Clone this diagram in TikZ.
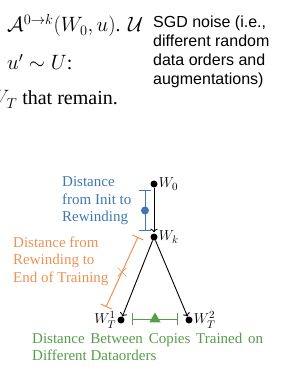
\documentclass[tikz,border=0pt]{standalone}
\usepackage{amsmath, amssymb}
\usepackage{fontspec}
\setmainfont{Liberation Serif}
\setsansfont{Liberation Sans}
\usepackage{xcolor}
\usepackage{tikz}
\usetikzlibrary{arrows.meta, shapes.geometric, shapes.misc}

\definecolor{initblue}{RGB}{62,120,178}
\definecolor{rewindorange}{RGB}{236,146,82}
\definecolor{copygreen}{RGB}{84,158,72}

\begin{document}
\begin{tikzpicture}[x=1pt, y=-1pt, >=To,
    dot/.style={circle, fill=black, inner sep=0pt, minimum size=7pt},
    wlabel/.style={font=\fontsize{15}{17}\selectfont, inner sep=1pt},
    txt/.style={font=\fontsize{15}{17.3}\selectfont, align=left, inner sep=0pt, anchor=north west},
    para/.style={font=\fontsize{20}{24}\selectfont, inner sep=0pt},
    gap/.style={line width=1pt, {Bar[width=12pt]}-{Bar[width=12pt]}}]
    \useasboundingbox (0,0) rectangle (297,379);
    \clip (0,0) rectangle (297,379);

    % Textreste aus dem Absatz darueber
    \node[para, font=\fontsize{19.5}{24}\selectfont, anchor=base west] (algo) at (7,32) {$\mathcal{A}^{0\to k}(W_0, u)$.};
    \node[para, anchor=base west] (noise) at (128,32) {$\mathcal{U}$};
    \node[para, anchor=base west] (sample) at (7,70) {$u' \sim U$:};
    \node[para, anchor=base east] (remain) at (118,105) {$W_T$ that remain.};
    \node[txt, font=\sffamily\fontsize{16}{18.8}\selectfont] (sgd) at (153,16)
        {SGD noise (i.e.,\\different random\\data orders and\\augmentations)};

    % Gewichte
    \node[dot, label={[wlabel]right:$W_0$}] (w0) at (154,184) {};
    \node[dot, label={[wlabel]right:$W_k$}] (wk) at (154,237) {};
    \node[dot, label={[wlabel]left:$W_T^1$}] (wt1) at (121,320) {};
    \node[dot, label={[wlabel]right:$W_T^2$}] (wt2) at (189,320) {};

    \draw[->, line width=0.9pt, shorten >=1pt] (w0) -- (wk);
    \draw[->, line width=0.9pt] (wk) -- (wt1);
    \draw[->, line width=0.9pt] (wk) -- (wt2);

    % Abstaende
    \coordinate (b1) at (145,190);
    \coordinate (b2) at (145,231);
    \draw[gap, initblue] (b1) -- node[circle, fill=initblue, inner sep=0pt, minimum size=8pt] {} (b2);
    \node[txt, text=initblue] (inittxt) at (62,176.8) {Distance\\from Init to\\Rewinding};

    \coordinate (o1) at (138,237);
    \coordinate (o2) at (106,307);
    \draw[gap, rewindorange] (o1) -- node[cross out, draw=rewindorange, line width=0.7pt, minimum size=8pt, inner sep=0pt] {} (o2);
    \node[txt, text=rewindorange] (rewindtxt) at (13,236.8) {Distance from\\Rewinding to\\End of Training};

    \coordinate (g1) at (132,319);
    \coordinate (g2) at (178,319);
    \draw[gap, copygreen] (g1) -- node[regular polygon, regular polygon sides=3, fill=copygreen, inner sep=0pt, minimum size=13pt] {} (g2);
    \node[txt, text=copygreen] (copytxt) at (32,332.8)
        {\spaceskip=5.8pt Distance Between Copies Trained on\\Different Dataorders};
\end{tikzpicture}
\end{document}
